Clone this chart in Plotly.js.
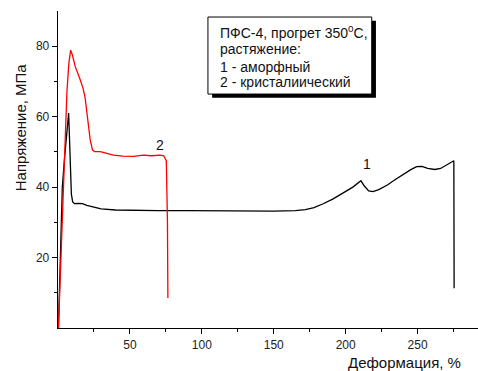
<!DOCTYPE html>
<html>
<head>
<meta charset="utf-8">
<script src="https://cdn.plot.ly/plotly-3.0.1.min.js"></script>
<style>html,body{margin:0;padding:0;background:#fff}#chart{width:478px;height:371px}</style>
</head>
<body>
<div id="chart"></div>
<script>
// Curve 1 – amorphous (black)
const amorphX = [0.3, 1.5, 3.0, 4.5, 6.0, 7.0, 7.4, 7.9, 8.5, 9.3, 10.2, 11.5, 14, 17, 20, 25, 30, 40, 50, 70, 90, 110, 130, 150, 165, 172, 178, 184, 191, 198, 205, 210.6, 213, 216, 219, 223, 229, 234, 239, 245, 249.3, 253, 257, 262, 266, 270, 273, 275.2, 275.4];
const amorphY = [0, 20, 40, 48, 55, 59.5, 61, 55, 45, 38, 35.8, 35.3, 35.4, 35.3, 34.8, 34.2, 33.8, 33.5, 33.4, 33.3, 33.3, 33.2, 33.3, 33.2, 33.3, 33.6, 34.2, 35.2, 36.6, 38.2, 40.0, 41.8, 40.3, 38.9, 38.7, 39.3, 40.6, 42.0, 43.4, 44.9, 45.8, 45.9, 45.3, 45.0, 45.3, 46.2, 47.0, 47.5, 11.3];
// Curve 2 – crystalline (red)
const crystX = [0.3, 2.0, 3.5, 5.0, 6.2, 7.5, 8.8, 10.0, 12.0, 15.0, 17.4, 18.8, 19.7, 21.0, 22.4, 24.0, 25.5, 29.4, 34, 38.6, 45, 52.5, 59.4, 65, 71, 73.5, 75.3, 76.1, 76.4];
const crystY = [0, 20, 36, 53, 67, 75, 78.9, 77.5, 74.2, 71.0, 68.1, 65.5, 62.8, 58.5, 53.4, 50.5, 50.1, 50.1, 49.6, 49.1, 48.8, 48.7, 49.1, 48.9, 49.1, 48.9, 47.5, 30, 8.5];

const xTicks = [50, 100, 150, 200, 250];
const xMinor = [25, 75, 125, 175, 225, 275];
const yTicks = [20, 40, 60, 80];
const yMinor = [10, 30, 50, 70];

const boxLines = ['ПФС-4, прогрет 350<sup>0</sup>С,', 'растяжение:', '1 - аморфный', '2 - кристалиический'];
const curveLabels = ['1', '2'];

const FONT = 'Liberation Sans, Arial, sans-serif';

const traces = [
  {x: amorphX, y: amorphY, mode: 'lines', line: {color: '#000000', width: 1.3}, hoverinfo: 'skip'},
  {x: crystX, y: crystY, mode: 'lines', line: {color: '#ff0000', width: 1.3}, hoverinfo: 'skip'}
];

const axisCommon = {
  showline: true, linecolor: '#000', linewidth: 1.3, mirror: false,
  showgrid: false, zeroline: false,
  ticks: 'outside', ticklen: 5, tickwidth: 1, tickcolor: '#000',
  tickfont: {family: FONT, size: 12, color: '#222'},
  tickmode: 'array'
};

const lineY = [0.934, 0.879, 0.824, 0.776];
const boxAnn = boxLines.map((t, i) => ({
  xref: 'paper', yref: 'paper', x: 0.381, y: lineY[i], xanchor: 'left', yanchor: 'middle', align: 'left',
  showarrow: false, text: t, font: {family: FONT, size: 14, color: '#111'}
}));

const layout = {
  width: 478, height: 371,
  margin: {l: 58, r: 0, t: 11, b: 43},
  paper_bgcolor: '#fff', plot_bgcolor: '#fff',
  showlegend: false,
  font: {family: FONT, color: '#222'},
  xaxis: Object.assign({}, axisCommon, {
    range: [0, 292], tickvals: xTicks,
    minor: {tickmode: 'array', tickvals: xMinor, ticks: 'outside', ticklen: 3, tickwidth: 1, tickcolor: '#000', showgrid: false}
  }),
  yaxis: Object.assign({}, axisCommon, {
    range: [0, 90], tickvals: yTicks,
    minor: {tickmode: 'array', tickvals: yMinor, ticks: 'outside', ticklen: 3, tickwidth: 1, tickcolor: '#000', showgrid: false}
  }),
  shapes: [
    {type: 'rect', xref: 'paper', yref: 'paper', x0: 0.367, x1: 0.757, y0: 0.726, y1: 0.969,
     fillcolor: '#000', line: {width: 0}, layer: 'above'},
    {type: 'rect', xref: 'paper', yref: 'paper', x0: 0.357, x1: 0.747, y0: 0.738, y1: 0.981,
     fillcolor: '#fff', line: {color: '#000', width: 1}, layer: 'above'}
  ],
  annotations: boxAnn.concat([
    {xref: 'x', yref: 'y', x: 214.8, y: 46.6, text: curveLabels[0], showarrow: false, font: {family: FONT, size: 14, color: '#111'}},
    {xref: 'x', yref: 'y', x: 71, y: 52, text: curveLabels[1], showarrow: false, font: {family: FONT, size: 14, color: '#111'}},
    {xref: 'paper', yref: 'paper', x: 0.965, y: -0.108, xanchor: 'right', yanchor: 'middle', showarrow: false,
     text: 'Деформация, %', font: {family: FONT, size: 15, color: '#111'}},
    {xref: 'paper', yref: 'paper', x: -0.09, y: 0.634, xanchor: 'center', yanchor: 'middle', showarrow: false, textangle: -90,
     text: 'Напряжение, МПа', font: {family: FONT, size: 15, color: '#111'}}
  ])
};

Plotly.newPlot('chart', traces, layout, {staticPlot: true, displayModeBar: false});
</script>
</body>
</html>
